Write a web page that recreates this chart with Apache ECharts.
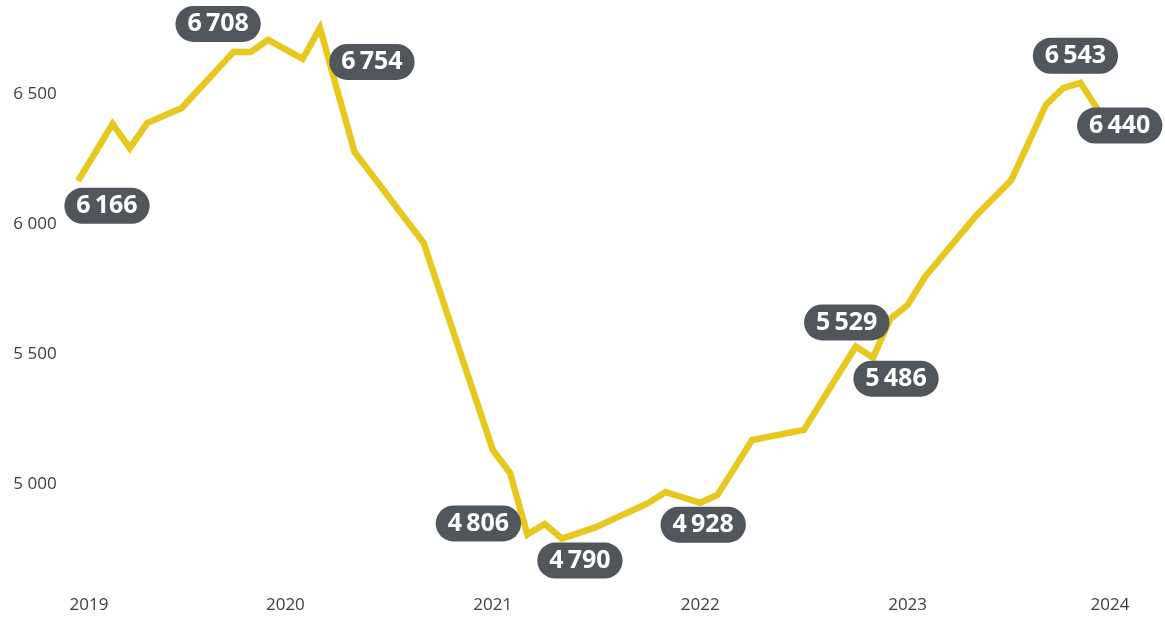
<!DOCTYPE html>
<html><head><meta charset="utf-8">
<script src="https://cdn.jsdelivr.net/npm/echarts@6/dist/echarts.min.js"></script>
<style>html,body{margin:0;padding:0;background:#fff}#c{width:1165px;height:617px}</style>
</head><body><div id="c"></div><script>
// Year tick labels (one per January)
const yearLabels = ['2019', '2020', '2021', '2022', '2023', '2024'];
// Monthly categories Jan 2019 .. Jan 2024
const categories = [];
yearLabels.forEach(function (y) {
  ['01','02','03','04','05','06','07','08','09','10','11','12'].forEach(function (m) { categories.push(y + '-' + m); });
});
categories.length = 61;
// Monthly values Jan 2019 .. Dec 2023
const values = [
  6166, 6275, 6385, 6292, 6388, 6417, 6446, 6518, 6590, 6662, 6662, 6708,
  6672, 6635, 6754, 6515, 6277, 6190, 6102, 6015, 5927, 5728, 5529, 5330,
  5131, 5042, 4806, 4846, 4790, 4812, 4835, 4866, 4896, 4927, 4969, 4948,
  4928, 4958, 5063, 5169, 5182, 5195, 5208, 5315, 5422, 5529, 5486, 5635,
  5688, 5796, 5876, 5955, 6035, 6102, 6169, 6313, 6458, 6523, 6543, 6440
];
// Indices of the labelled points
const labelledIdx = [0, 11, 14, 26, 28, 36, 45, 46, 58, 59];
// Y tick labels
const yTicks = [5000, 5500, 6000, 6500];

// label placement (style only)
const labelOffsets = {
  0: [29, 25], 11: [-50, -16], 14: [52, 34], 26: [-49, -11], 28: [18, 22],
  36: [3, 22], 45: [-9, -24], 46: [23, 21], 58: [-5, -27], 59: [22, 16]
};
function fmt(v) { var s = String(v); return s.slice(0, s.length - 3) + '\u2009' + s.slice(-3); }
function fmtAxis(v) { var s = String(v); return s.slice(0, s.length - 3) + ' ' + s.slice(-3); }

const FONT = '"Open Sans", "Noto Sans", sans-serif';
const AX = { fontSize: 17, color: '#3d3d3d', fontFamily: FONT };
const chart = echarts.init(document.getElementById('c'), null, { renderer: 'canvas' });
chart.setOption({
  animation: false,
  backgroundColor: '#ffffff',
  grid: { left: 78, right: 50, top: 16, bottom: 55, containLabel: false },
  xAxis: {
    type: 'category',
    data: categories,
    boundaryGap: false,
    axisLine: { show: false },
    axisTick: { show: false },
    splitLine: { show: false },
    axisLabel: {
      interval: function (i) { return i % 12 === 0; },
      margin: 35,
      fontSize: AX.fontSize,
      color: AX.color,
      fontFamily: FONT,
      formatter: function (val, i) {
        var y = val.slice(0, 4);
        if (i === 0) return '{first|' + y + '}';
        if (i === 60) return '{last|' + y + '}';
        return y;
      },
      rich: {
        first: Object.assign({ padding: [0, 0, 0, 22] }, AX),
        last: Object.assign({ padding: [0, 10, 0, 0] }, AX)
      }
    }
  },
  yAxis: {
    type: 'value',
    min: 4700,
    max: 6800,
    interval: 100,
    axisLine: { show: false },
    axisTick: { show: false },
    splitLine: { show: false },
    axisLabel: {
      align: 'center',
      margin: 43,
      fontSize: AX.fontSize,
      color: AX.color,
      fontFamily: FONT,
      formatter: function (v) { return yTicks.indexOf(v) >= 0 ? fmtAxis(v) : ''; }
    }
  },
  series: [{
    type: 'line',
    data: values.map(function (v, i) {
      if (labelledIdx.indexOf(i) >= 0) {
        return { value: v, label: { show: true, offset: labelOffsets[i] } };
      }
      return v;
    }),
    symbol: 'circle',
    symbolSize: 1,
    showAllSymbol: true,
    itemStyle: { color: 'rgba(0,0,0,0)' },
    lineStyle: { color: '#e8c81e', width: 6.5, join: 'miter' },
    emphasis: { disabled: true },
    z: 2,
    label: {
      show: false,
      position: 'inside',
      formatter: function (p) { return fmt(p.value); },
      color: '#ffffff',
      fontFamily: FONT,
      fontSize: 25,
      fontWeight: 'bold',
      lineHeight: 28,
      backgroundColor: '#50565b',
      borderRadius: 18,
      padding: [4, 12]
    }
  }]
});
</script></body></html>
